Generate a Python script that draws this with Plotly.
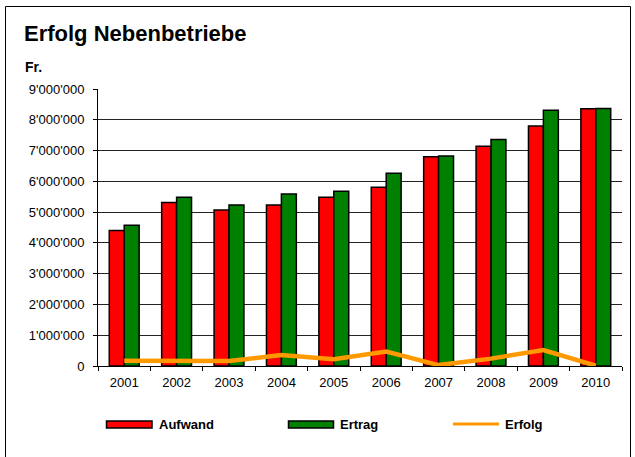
import plotly.graph_objects as go

years = ["2001", "2002", "2003", "2004", "2005", "2006", "2007", "2008", "2009", "2010"]
aufwand = [4400000, 5310000, 5070000, 5230000, 5480000, 5810000, 6800000, 7140000, 7800000, 8360000]
ertrag = [4570000, 5480000, 5230000, 5590000, 5680000, 6260000, 6820000, 7360000, 8310000, 8370000]
erfolg = [170000, 170000, 160000, 360000, 220000, 470000, 30000, 240000, 520000, 10000]
ytick_vals = [0, 1000000, 2000000, 3000000, 4000000, 5000000, 6000000, 7000000, 8000000, 9000000]
ytick_text = ["0", "1'000'000", "2'000'000", "3'000'000", "4'000'000", "5'000'000",
              "6'000'000", "7'000'000", "8'000'000", "9'000'000"]

W, H = 635, 457
L, T = 98, 89
R = W - 622
B = H - 366
PW, PH = W - L - R, H - T - B

def px(x):
    return (x - L) / PW

def py(y):
    return (H - B - y) / PH

FONT = "Liberation Sans, Arial, sans-serif"

fig = go.Figure()
fig.add_trace(go.Bar(x=years, y=aufwand, name="Aufwand",
                     marker=dict(color="#FF0000", line=dict(color="black", width=1.5))))
fig.add_trace(go.Bar(x=years, y=ertrag, name="Ertrag",
                     marker=dict(color="#008000", line=dict(color="black", width=1.5))))
fig.add_trace(go.Scatter(x=years, y=erfolg, name="Erfolg", mode="lines",
                         line=dict(color="#FF9900", width=4.5)))

shapes = [
    dict(type="rect", xref="paper", yref="paper", x0=px(5.5), x1=px(630.5), y0=py(480), y1=py(6.5),
         line=dict(color="black", width=1), fillcolor="rgba(0,0,0,0)", layer="below"),
    dict(type="rect", xref="paper", yref="paper", x0=px(106.5), x1=px(152), y0=py(428), y1=py(421),
         line=dict(color="black", width=1.5), fillcolor="#FF0000"),
    dict(type="rect", xref="paper", yref="paper", x0=px(288.5), x1=px(333.5), y0=py(428), y1=py(421),
         line=dict(color="black", width=1.5), fillcolor="#008000"),
    dict(type="line", xref="paper", yref="paper", x0=px(453), x1=px(499), y0=py(424), y1=py(424),
         line=dict(color="#FF9900", width=3)),
]

annotations = [
    dict(text="<b>Erfolg Nebenbetriebe</b>", xref="paper", yref="paper", x=px(22), y=py(33),
         xanchor="left", yanchor="middle", showarrow=False, font=dict(size=22, color="black", family=FONT)),
    dict(text="<b>Fr.</b>", xref="paper", yref="paper", x=px(23), y=py(67),
         xanchor="left", yanchor="middle", showarrow=False, font=dict(size=14, color="black", family=FONT)),
    dict(text="<b>Aufwand</b>", xref="paper", yref="paper", x=px(157), y=py(424),
         xanchor="left", yanchor="middle", showarrow=False, font=dict(size=13, color="black", family=FONT)),
    dict(text="<b>Ertrag</b>", xref="paper", yref="paper", x=px(338), y=py(424),
         xanchor="left", yanchor="middle", showarrow=False, font=dict(size=13, color="black", family=FONT)),
    dict(text="<b>Erfolg</b>", xref="paper", yref="paper", x=px(503), y=py(424),
         xanchor="left", yanchor="middle", showarrow=False, font=dict(size=13, color="black", family=FONT)),
]

fig.update_layout(
    width=W, height=H,
    margin=dict(l=L, r=R, t=T, b=B, autoexpand=False),
    paper_bgcolor="white", plot_bgcolor="white",
    barmode="group", bargap=0.43, bargroupgap=0,
    showlegend=False,
    font=dict(family=FONT, size=13, color="black"),
    shapes=shapes, annotations=annotations,
    xaxis=dict(type="category", showline=True, linecolor="black", linewidth=1,
               ticks="outside", tickson="boundaries", ticklen=4, tickcolor="black",
               ticklabelstandoff=4,
               showgrid=False, tickfont=dict(size=13, color="black")),
    yaxis=dict(range=[0, 9000000], tickvals=ytick_vals, ticktext=ytick_text,
               showline=True, linecolor="black", linewidth=1,
               ticks="outside", ticklen=4, tickcolor="black",
               ticklabelstandoff=6,
               showgrid=True, gridcolor="#222222", gridwidth=1, zeroline=False,
               tickfont=dict(size=13, color="black")),
)

fig.write_html("out.html", config={"displayModeBar": False},
               post_script="document.body.style.margin='0';document.body.style.overflow='hidden';")
